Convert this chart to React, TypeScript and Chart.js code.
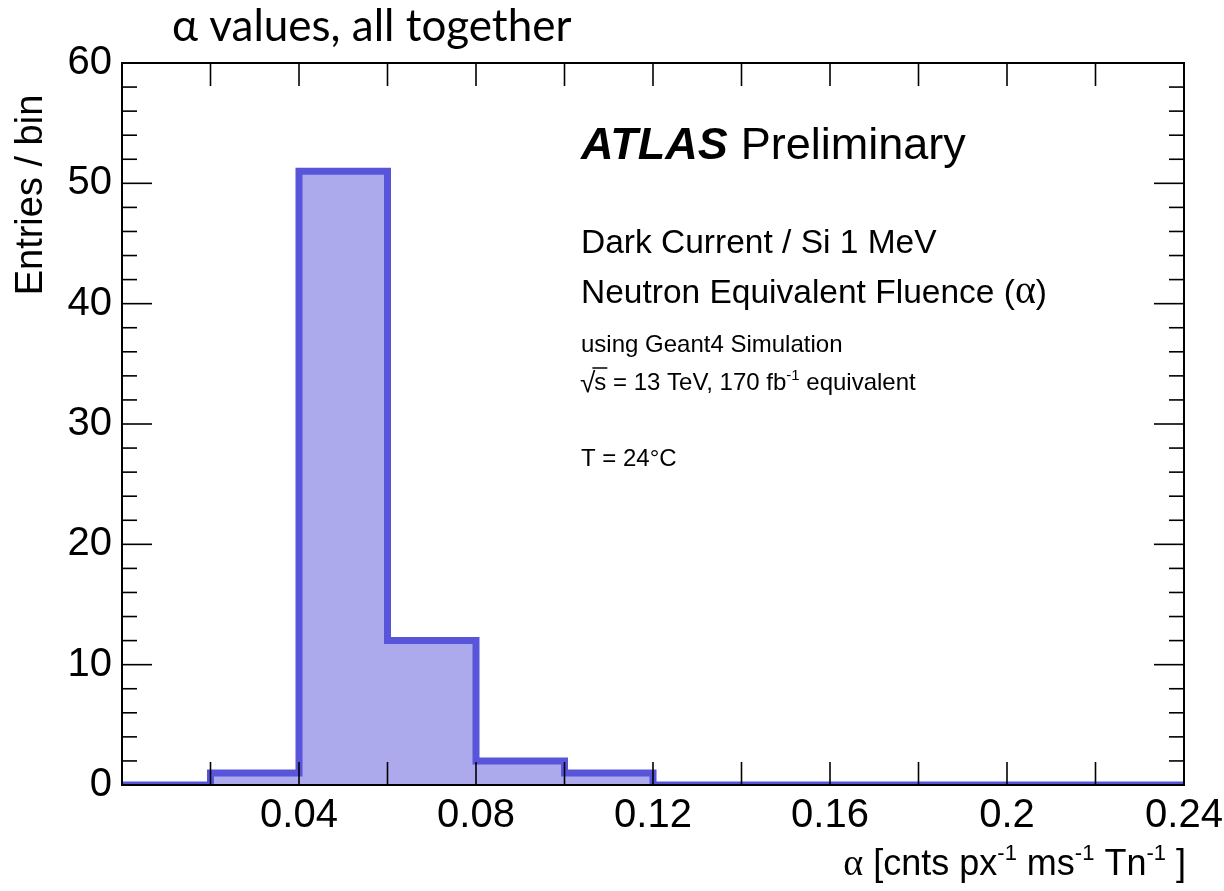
import React, { useEffect, useRef } from "react";
import { Chart, registerables } from "chart.js";

Chart.register(...registerables);

// ---- data ----
const binEdges = [0, 0.02, 0.04, 0.06, 0.08, 0.1, 0.12, 0.14, 0.16, 0.18, 0.2, 0.22, 0.24];
const binCounts = [0, 1, 51, 12, 2, 1, 0, 0, 0, 0, 0, 0];
const xTickValues = [0, 0.04, 0.08, 0.12, 0.16, 0.2, 0.24];
const xTickLabels = ["", "0.04", "0.08", "0.12", "0.16", "0.2", "0.24"];
const xTickMarks = [0.02, 0.04, 0.06, 0.08, 0.1, 0.12, 0.14, 0.16, 0.18, 0.2, 0.22];
const yTickValues = [0, 10, 20, 30, 40, 50, 60];
const yTickLabels = ["0", "10", "20", "30", "40", "50", "60"];
const yMinorMarks = [2, 4, 6, 8, 12, 14, 16, 18, 22, 24, 26, 28, 32, 34, 36, 38, 42, 44, 46, 48, 52, 54, 56, 58];

const titleText = "α values, all together";
const yTitle = "Entries / bin";

const SANS = "'Liberation Sans', Arial, sans-serif";
const SERIF = "'Liberation Serif', 'DejaVu Serif', serif";

type Run = { t: string; f: string; dy?: number };

function drawRuns(ctx: CanvasRenderingContext2D, runs: Run[], x: number, y: number, align: "left" | "right" = "left") {
  let total = 0;
  for (const r of runs) {
    ctx.font = r.f;
    total += ctx.measureText(r.t).width;
  }
  let cx = align === "right" ? x - total : x;
  ctx.textAlign = "left";
  ctx.textBaseline = "alphabetic";
  for (const r of runs) {
    ctx.font = r.f;
    ctx.fillText(r.t, cx, y + (r.dy || 0));
    cx += ctx.measureText(r.t).width;
  }
  return total;
}

const overlayPlugin = {
  id: "overlay",
  afterDraw(chart: any) {
    const ctx: CanvasRenderingContext2D = chart.ctx;
    const { left, right, top, bottom } = chart.chartArea;
    const xs = chart.scales.x;
    const ys = chart.scales.y;
    ctx.save();
    ctx.fillStyle = "#000";
    ctx.strokeStyle = "#000";

    // ticks
    ctx.lineWidth = 1.6;
    const line = (x1: number, y1: number, x2: number, y2: number) => {
      ctx.beginPath();
      ctx.moveTo(x1, y1);
      ctx.lineTo(x2, y2);
      ctx.stroke();
    };
    for (const v of xTickMarks) {
      const px = xs.getPixelForValue(v);
      line(px, bottom, px, bottom - 23);
      line(px, top, px, top + 23);
    }
    for (const v of yTickValues) {
      const py = ys.getPixelForValue(v);
      line(left, py, left + 30, py);
      line(right, py, right - 30, py);
    }
    for (const v of yMinorMarks) {
      const py = ys.getPixelForValue(v);
      line(left, py, left + 15, py);
      line(right, py, right - 15, py);
    }

    // frame
    ctx.lineWidth = 2;
    ctx.strokeRect(left, top, right - left, bottom - top);

    // title
    ctx.font = "44px Lato, 'Open Sans', sans-serif";
    ctx.textAlign = "left";
    ctx.textBaseline = "alphabetic";
    ctx.fillText(titleText, 172, 41);

    // y title
    ctx.save();
    ctx.translate(42, 195);
    ctx.rotate(-Math.PI / 2);
    ctx.font = `38px ${SANS}`;
    ctx.textAlign = "center";
    ctx.fillText(yTitle, 0, 0);
    ctx.restore();

    // x title
    const fm = `36px ${SANS}`;
    const fs = `22px ${SANS}`;
    drawRuns(
      ctx,
      [
        { t: "α", f: `38px ${SERIF}` },
        { t: " [cnts px", f: fm },
        { t: "-1", f: fs, dy: -15 },
        { t: " ms", f: fm },
        { t: "-1", f: fs, dy: -15 },
        { t: " Tn", f: fm },
        { t: "-1", f: fs, dy: -15 },
        { t: " ]", f: fm },
      ],
      1186,
      875,
      "right"
    );

    // ATLAS label
    const tx = 581;
    ctx.font = `italic bold 45px ${SANS}`;
    ctx.fillText("ATLAS", tx, 159);
    const aw = ctx.measureText("ATLAS").width;
    ctx.font = `45px ${SANS}`;
    ctx.fillText("Preliminary", tx + aw + 13, 159);

    ctx.font = `33.5px ${SANS}`;
    ctx.fillText("Dark Current / Si 1 MeV", tx, 253);
    drawRuns(
      ctx,
      [
        { t: "Neutron Equivalent Fluence (", f: `33.5px ${SANS}` },
        { t: "α", f: `40px ${SERIF}` },
        { t: ")", f: `33.5px ${SANS}` },
      ],
      tx,
      303
    );

    ctx.font = `24px ${SANS}`;
    ctx.fillText("using Geant4 Simulation", tx, 352);

    // sqrt(s)
    ctx.font = `28px ${SANS}`;
    const sq = "√";
    ctx.fillText(sq, tx - 1, 392);
    const sqw = ctx.measureText(sq).width;
    const sx = tx - 2 + sqw;
    ctx.font = `24px ${SANS}`;
    ctx.fillText("s", sx, 390);
    const sw = ctx.measureText("s").width;
    ctx.lineWidth = 1.5;
    line(sx - 2, 368, sx + sw + 1, 368);
    drawRuns(
      ctx,
      [
        { t: " = 13 TeV, 170 fb", f: `24px ${SANS}` },
        { t: "-1", f: `15px ${SANS}`, dy: -10 },
        { t: " equivalent", f: `24px ${SANS}` },
      ],
      sx + sw,
      390
    );

    ctx.font = `24px ${SANS}`;
    ctx.fillText("T = 24°C", tx, 466);

    ctx.restore();
  },
};

export default function App() {
  const canvasRef = useRef<HTMLCanvasElement | null>(null);

  useEffect(() => {
    document.body.style.margin = "0";
    const canvas = canvasRef.current;
    if (!canvas) return;
    const points = binEdges.map((x, i) => ({
      x,
      y: i < binCounts.length ? binCounts[i] : binCounts[binCounts.length - 1],
    }));
    const chart = new Chart(canvas, {
      type: "line",
      data: {
        datasets: [
          {
            data: points,
            stepped: "before",
            fill: "origin",
            backgroundColor: "#acaaec",
            borderColor: "#5955db",
            borderWidth: 7,
            pointRadius: 0,
            borderJoinStyle: "miter",
            borderCapStyle: "butt",
          } as any,
        ],
      },
      options: {
        animation: false,
        responsive: false,
        devicePixelRatio: 1,
        layout: { padding: { top: 63, right: 40, left: 0, bottom: 0 } },
        plugins: {
          legend: { display: false },
          tooltip: { enabled: false },
          title: { display: false },
        },
        scales: {
          x: {
            type: "linear",
            min: 0,
            max: 0.24,
            border: { display: false },
            grid: { display: false, drawTicks: false },
            afterBuildTicks: (axis: any) => {
              axis.ticks = xTickValues.map((v) => ({ value: v }));
            },
            afterFit: (axis: any) => {
              axis.height = 106;
              axis.paddingLeft = 0;
              axis.paddingRight = 0;
            },
            ticks: {
              autoSkip: false,
              maxRotation: 0,
              padding: 7,
              color: "#000",
              font: { family: SANS, size: 40 },
              callback: (_v: any, i: number) => xTickLabels[i],
            },
          },
          y: {
            type: "linear",
            min: 0,
            max: 60,
            border: { display: false },
            grid: { display: false, drawTicks: false },
            afterBuildTicks: (axis: any) => {
              axis.ticks = yTickValues.map((v) => ({ value: v }));
            },
            afterFit: (axis: any) => {
              axis.width = 122;
              axis.paddingTop = 0;
              axis.paddingBottom = 0;
            },
            ticks: {
              autoSkip: false,
              padding: 10,
              color: "#000",
              font: { family: SANS, size: 40 },
              callback: (_v: any, i: number) => yTickLabels[i],
            },
          },
        },
      },
      plugins: [overlayPlugin],
    });
    return () => chart.destroy();
  }, []);

  return (
    <div style={{ position: "absolute", left: 0, top: 0, width: 1224, height: 891, background: "#fff" }}>
      <canvas ref={canvasRef} width={1224} height={891} style={{ display: "block" }} />
    </div>
  );
}
